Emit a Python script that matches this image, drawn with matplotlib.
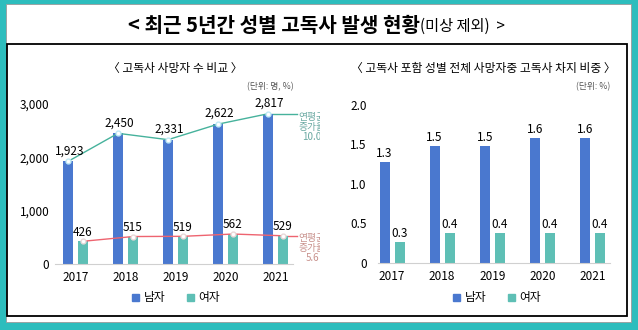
import matplotlib
matplotlib.use('Agg')
import matplotlib.pyplot as plt
import numpy as np
from matplotlib.patches import Rectangle, Patch
from matplotlib.transforms import Bbox, TransformedBbox

plt.rcParams['font.family'] = ['Noto Sans CJK KR', 'DejaVu Sans']

# 데이터
years = ['2017', '2018', '2019', '2020', '2021']
male_cnt = [1923, 2450, 2331, 2622, 2817]
female_cnt = [426, 515, 519, 562, 529]
male_pct = [1.28, 1.48, 1.48, 1.58, 1.58]
female_pct = [0.27, 0.38, 0.38, 0.38, 0.38]
male_growth = '연평균\n증가율\n10.0'
female_growth = '연평균\n증가율\n5.6'

c_male = '#4A78CF'
c_female = '#5EBFB5'
c_teal_line = '#46B29C'
c_red_line = '#EE6470'
c_frame = '#2DBDBD'

W, H = 638, 330
fig = plt.figure(figsize=(W / 100, H / 100), dpi=100)
fig.patch.set_facecolor(c_frame)


def fx(x):
    return x / W


def fy(y):
    return 1 - y / H


def box(x0, y0, x1, y1):
    return [fx(x0), fy(y1), fx(x1) - fx(x0), fy(y0) - fy(y1)]


# 바깥 테두리 (축보다 아래에)
fig.patches.append(Rectangle((fx(6), fy(322)), fx(631) - fx(6), fy(4) - fy(322),
                             transform=fig.transFigure, fc='white', ec='#9a9a9a', lw=0.6, zorder=-5))
fig.patches.append(Rectangle((fx(7), fy(316)), fx(627) - fx(7), fy(44) - fy(316),
                             transform=fig.transFigure, fc='white', ec='black', lw=1.3, zorder=-4))

# 제목
fig.text(fx(420), fy(25), '< 최근 5년간 성별 고독사 발생 현황', ha='right', va='center',
         fontsize=14.5, fontweight='bold')
fig.text(fx(420), fy(26), '(미상 제외)  >', ha='left', va='center', fontsize=11)

x = np.arange(len(years))
off = 0.15
bw = 0.2

# ---- 왼쪽: 고독사 사망자 수 비교
ax1 = fig.add_axes(box(55, 104, 293, 264))
ax1.bar(x - off, male_cnt, bw, color=c_male, zorder=2)
ax1.bar(x + off, female_cnt, bw, color=c_female, zorder=2)
ax1.plot(x - off, male_cnt, color=c_teal_line, lw=1.0, marker='o', ms=3.5,
         mfc='white', mec='#BFE9F5', mew=1.0, zorder=3)
ax1.plot(x + off, female_cnt, color=c_red_line, lw=1.0, marker='o', ms=3.5,
         mfc='white', mec='#E8D8D8', mew=1.0, zorder=3)
ax1.plot([x[-1] - off, 4.35 + 0.07], [male_cnt[-1]] * 2, color=c_teal_line, lw=1.0, clip_on=False, zorder=1)
ax1.plot([x[-1] + off, 4.35 + 0.07], [female_cnt[-1]] * 2, color=c_red_line, lw=1.0, clip_on=False, zorder=1)
for i in range(len(years)):
    ax1.annotate(f'{male_cnt[i]:,}', (x[i] - off, male_cnt[i]), xytext=(1, 3), textcoords='offset points',
                 ha='center', va='bottom', fontsize=8.5)
    ax1.annotate(f'{female_cnt[i]:,}', (x[i] + off, female_cnt[i]), xytext=(0, 2), textcoords='offset points',
                 ha='center', va='bottom', fontsize=8.5)
ax1.set_xlim(-0.41, 4.35)
ax1.set_ylim(0, 3000)
ax1.set_yticks([0, 1000, 2000, 3000])
ax1.set_yticklabels([f'{v:,}' for v in [0, 1000, 2000, 3000]])
ax1.set_xticks(x)
ax1.set_xticklabels(years)
ax1.tick_params(length=0, labelsize=8.5)
ax1.tick_params(axis='y', pad=4)
ax1.tick_params(axis='x', pad=5)
for s in ['top', 'right', 'left']:
    ax1.spines[s].set_visible(False)
ax1.spines['bottom'].set_color('#D0D0D0')
ax1.patch.set_alpha(0)

clip = TransformedBbox(Bbox([[0, 0], [fx(320), 1]]), fig.transFigure)
t1 = fig.text(fx(312), fy(127), male_growth, ha='center', va='center', fontsize=7,
              linespacing=1.0, color='#6AA9A2')
t2 = fig.text(fx(312), fy(248), female_growth, ha='center', va='center', fontsize=7,
              linespacing=1.0, color='#C8918C')
for t in (t1, t2):
    t.set_clip_on(True)
    t.set_clip_box(clip)

fig.text(fx(175), fy(68), '〈 고독사 사망자 수 비교 〉', ha='center', va='center', fontsize=8.5)
fig.text(fx(270), fy(87), '(단위: 명, %)', ha='center', va='center', fontsize=6.3, color='#555555')

# ---- 오른쪽: 전체 사망자중 고독사 비중
ax2 = fig.add_axes(box(378, 105, 610, 263))
ax2.bar(x - off, male_pct, bw, color=c_male, zorder=2)
ax2.bar(x + off, female_pct, bw, color=c_female, zorder=2)
for i in range(len(years)):
    ax2.annotate(f'{male_pct[i]:.1f}', (x[i] - off, male_pct[i]), xytext=(0, 1.5), textcoords='offset points',
                 ha='center', va='bottom', fontsize=8.5)
    ax2.annotate(f'{female_pct[i]:.1f}', (x[i] + off, female_pct[i]), xytext=(0, 1.5), textcoords='offset points',
                 ha='center', va='bottom', fontsize=8.5)
ax2.set_xlim(-0.28, 4.35)
ax2.set_ylim(0, 2.0)
ax2.set_yticks([0, 0.5, 1.0, 1.5, 2.0])
ax2.set_yticklabels(['0', '0.5', '1.0', '1.5', '2.0'])
ax2.set_xticks(x)
ax2.set_xticklabels(years)
ax2.tick_params(length=0, labelsize=8.5)
ax2.tick_params(axis='y', pad=8)
ax2.tick_params(axis='x', pad=5)
for s in ['top', 'right', 'left']:
    ax2.spines[s].set_visible(False)
ax2.spines['bottom'].set_color('#D0D0D0')
ax2.patch.set_alpha(0)

fig.text(fx(483), fy(68), '〈 고독사 포함 성별 전체 사망자중 고독사 차지 비중 〉', ha='center', va='center', fontsize=8.5)
fig.text(fx(593), fy(87), '(단위: %)', ha='center', va='center', fontsize=6.3, color='#555555')

# 범례
handles = [Patch(color=c_male, label='남자'), Patch(color=c_female, label='여자')]
for cx in (176, 497):
    fig.legend(handles=handles, loc='center', bbox_to_anchor=(fx(cx), fy(298)), ncol=2, frameon=False,
               fontsize=8.5, handlelength=0.6, handleheight=0.6, handletextpad=0.4, columnspacing=1.8)

fig.savefig('out.png', dpi=100, facecolor=c_frame)
